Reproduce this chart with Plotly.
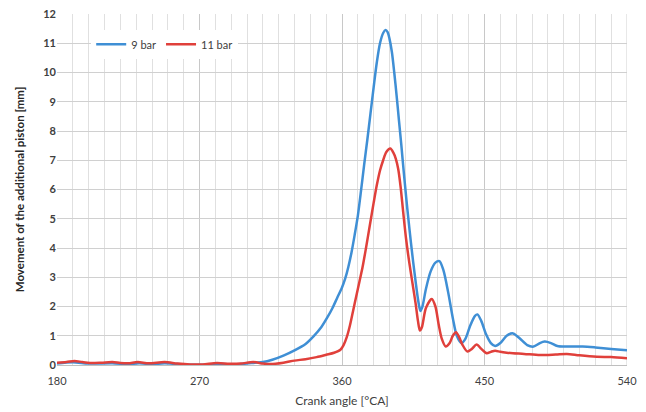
import plotly.graph_objects as go

# Data
angle_9bar = [180, 190, 200, 215, 225, 232, 240, 248, 256, 265, 275, 283, 292, 300, 305, 310,
              316, 323, 330, 337, 342, 347, 351, 354, 357, 360, 362, 364, 366, 368, 370, 372,
              374, 376, 378, 380, 382, 384, 386, 387.5, 388.8, 390, 391.5, 393, 394.5, 396,
              397.5, 399, 400.5, 402, 403.5, 405, 406.5, 408, 409.5, 410.8, 413, 416, 419, 421.5,
              424, 427, 430, 432.5, 435.5, 438, 441, 444, 445.5, 448, 451, 454, 456.7, 460, 464,
              468, 472, 477, 481, 485, 488, 492, 496, 502, 512, 520, 530, 540]
move_9bar = [0.05, 0.09, 0.05, 0.06, 0.03, 0.06, 0.03, 0.06, 0.03, 0.01, 0.01, 0.04, 0.02, 0.05, 0.08, 0.1,
             0.18, 0.32, 0.5, 0.72, 0.98, 1.3, 1.65, 1.95, 2.3, 2.65, 2.95, 3.35, 3.85, 4.45, 5.1, 5.95,
             6.85, 7.7, 8.6, 9.5, 10.35, 11.0, 11.35, 11.45, 11.38, 11.15, 10.7, 10.0, 9.2, 8.35,
             7.5, 6.6, 5.75, 4.95, 4.2, 3.5, 2.85, 2.25, 1.85, 2.0, 2.6, 3.2, 3.5, 3.55,
             3.25, 2.5, 1.6, 1.0, 0.75, 0.9, 1.35, 1.68, 1.73, 1.5, 1.05, 0.75, 0.65, 0.75, 1.0,
             1.08, 0.92, 0.68, 0.63, 0.75, 0.8, 0.75, 0.65, 0.63, 0.63, 0.6, 0.55, 0.5]

angle_11bar = [180, 186, 191, 196, 201, 208, 215, 220, 225, 231, 238, 248, 256, 264, 272, 281,
               289, 296, 304, 310, 315, 323, 330, 337, 344, 350, 355, 359, 361, 363, 365, 367,
               369, 371, 373, 375, 377.5, 380, 382, 384, 386, 388, 390.5, 392.5, 394,
               395.5, 397, 398.7, 400.5, 402.5, 404.5, 406.5, 408, 409.2, 410.5, 413, 416.7, 419,
               421, 423, 425.5, 428, 430, 432, 434, 436, 439.2, 442, 445, 448, 451.4, 454, 456.7,
               460, 464, 468, 475, 485, 495, 502, 510, 521, 530, 540]
move_11bar = [0.08, 0.1, 0.14, 0.1, 0.07, 0.08, 0.1, 0.07, 0.06, 0.1, 0.06, 0.1, 0.05, 0.02, 0.02, 0.07,
              0.04, 0.05, 0.1, 0.05, 0.03, 0.08, 0.15, 0.2, 0.27, 0.35, 0.42, 0.52, 0.68, 0.95, 1.35, 1.85,
              2.35, 2.85, 3.35, 3.95, 4.75, 5.55, 6.15, 6.65, 7.0, 7.28, 7.4, 7.25, 7.05,
              6.7, 6.1, 5.2, 4.3, 3.5, 2.8, 2.1, 1.5, 1.18, 1.3, 1.95, 2.26, 2.0,
              1.4, 0.9, 0.63, 0.75, 1.0, 1.12, 0.95, 0.7, 0.46, 0.55, 0.7, 0.55, 0.4, 0.45, 0.49,
              0.45, 0.42, 0.4, 0.38, 0.34, 0.36, 0.38, 0.33, 0.28, 0.27, 0.23]

x_ticks = [180, 270, 360, 450, 540]
y_ticks = list(range(0, 13))

BLUE = "#3f8fd5"
RED = "#e0403b"
FONT = "Lato"

fig = go.Figure()
fig.add_trace(go.Scatter(x=angle_9bar, y=move_9bar, mode="lines", name="9 bar",
                         line=dict(color=BLUE, width=2.5, shape="spline", smoothing=0.8)))
fig.add_trace(go.Scatter(x=angle_11bar, y=move_11bar, mode="lines", name="11 bar",
                         line=dict(color=RED, width=2.5, shape="spline", smoothing=0.8)))

fig.update_layout(
    width=646, height=412,
    margin=dict(l=49, r=27, t=6, b=55, autoexpand=False),
    paper_bgcolor="white", plot_bgcolor="white",
    font=dict(family=FONT, size=11, color="#404040"),
    showlegend=True,
    legend=dict(orientation="h", x=0.06, y=0.955, xanchor="left", yanchor="top",
                bgcolor="white", borderwidth=0, font=dict(size=11, color="#404040"),
                itemwidth=30, tracegroupgap=0),
    xaxis=dict(range=[180, 540], tickvals=x_ticks, ticktext=[str(v) for v in x_ticks],
               showgrid=True, gridcolor="#c8c8c8", gridwidth=1,
               minor=dict(dtick=10, tick0=180, showgrid=True, gridcolor="#e0e0e0", gridwidth=1),
               showline=True, linecolor="#bfbfbf", linewidth=1, mirror=False,
               zeroline=False, ticks="", ticklabelstandoff=6, automargin=False,
               ticklabeloverflow="allow",
               tickfont=dict(size=11, color="#404040"),
               title=dict(text="Crank angle [°CA]", font=dict(size=12, color="#404040"), standoff=10)),
    yaxis=dict(range=[0, 12], tickvals=y_ticks, showgrid=True, gridcolor="#d0d0d0", gridwidth=1,
               zeroline=False, showline=False, ticks="", automargin=False,
               ticklabeloverflow="allow",
               tickfont=dict(size=11, color="#404040", weight="bold"),
               title=dict(text="Movement of the additional piston [mm]",
                          font=dict(size=11.5, color="#262626", weight="bold"), standoff=16)),
)
fig.add_shape(type="line", xref="x", yref="paper", x0=540, x1=540, y0=0, y1=1,
              line=dict(color="#d0d0d0", width=1), layer="below")

fig.write_html("out.html")
